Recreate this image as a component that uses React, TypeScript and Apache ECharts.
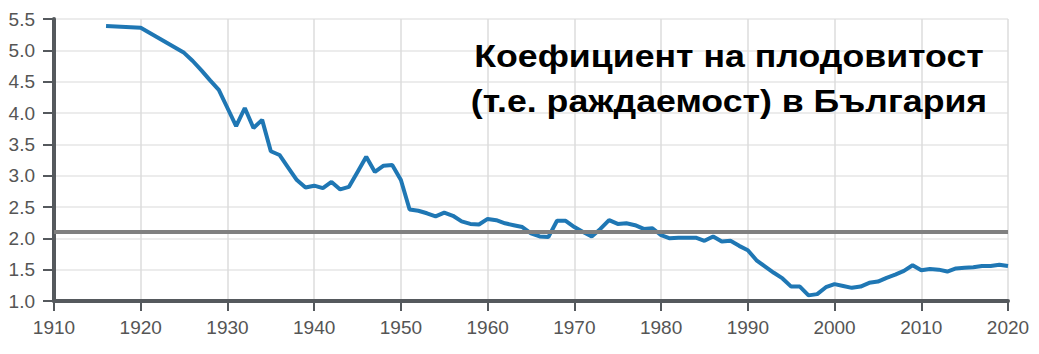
import React, { useEffect, useRef } from "react";
import * as echarts from "echarts";

const years: number[] = [
  1916, 1920, 1921, 1922, 1923, 1924, 1925, 1926, 1927, 1928, 1929, 1930,
  1931, 1932, 1933, 1934, 1935, 1936, 1937, 1938, 1939, 1940, 1941, 1942,
  1943, 1944, 1945, 1946, 1947, 1948, 1949, 1950, 1951, 1952, 1953, 1954,
  1955, 1956, 1957, 1958, 1959, 1960, 1961, 1962, 1963, 1964, 1965, 1966,
  1967, 1968, 1969, 1970, 1971, 1972, 1973, 1974, 1975, 1976, 1977, 1978,
  1979, 1980, 1981, 1982, 1983, 1984, 1985, 1986, 1987, 1988, 1989, 1990,
  1991, 1992, 1993, 1994, 1995, 1996, 1997, 1998, 1999, 2000, 2001, 2002,
  2003, 2004, 2005, 2006, 2007, 2008, 2009, 2010, 2011, 2012, 2013, 2014,
  2015, 2016, 2017, 2018, 2019, 2020,
];

const fertility: number[] = [
  5.39, 5.36, 5.28, 5.2, 5.12, 5.04, 4.96, 4.83, 4.68, 4.52, 4.37, 4.08,
  3.79, 4.08, 3.76, 3.89, 3.39, 3.33, 3.13, 2.93, 2.81, 2.84, 2.8, 2.9,
  2.78, 2.82, 3.06, 3.3, 3.06, 3.16, 3.17, 2.93, 2.46, 2.44, 2.4, 2.35,
  2.41, 2.36, 2.27, 2.23, 2.22, 2.31, 2.29, 2.24, 2.21, 2.18, 2.08, 2.03,
  2.02, 2.28, 2.28, 2.18, 2.1, 2.03, 2.15, 2.29, 2.23, 2.24, 2.21, 2.15,
  2.16, 2.05, 2.0, 2.01, 2.01, 2.01, 1.96, 2.03, 1.95, 1.96, 1.88, 1.81,
  1.65, 1.55, 1.45, 1.36, 1.23, 1.23, 1.09, 1.11, 1.22, 1.27, 1.24, 1.21,
  1.23, 1.29, 1.31, 1.37, 1.42, 1.48, 1.57, 1.49, 1.51, 1.5, 1.47, 1.52,
  1.53, 1.54, 1.56, 1.56, 1.58, 1.56,
];

const replacementLevel = 2.1;
const titleLines: string[] = ["Коефициент на плодовитост", "(т.е. раждаемост) в България"];

export default function App() {
  const ref = useRef<HTMLDivElement>(null);
  useEffect(() => {
    document.body.style.margin = "0";
    if (!ref.current) return;
    const chart = echarts.init(ref.current, undefined, { renderer: "svg" });
    const axisColor = "#55595d";
    const labelFont = "'Liberation Sans', Arial, sans-serif";
    chart.setOption({
      animation: false,
      backgroundColor: "#ffffff",
      grid: { left: 54, right: 31, top: 19, bottom: 53 },
      xAxis: {
        type: "value",
        min: 1910,
        max: 2020,
        interval: 10,
        axisLine: { show: true, onZero: false, lineStyle: { color: axisColor, width: 4 } },
        axisTick: { show: true, length: 10, lineStyle: { color: axisColor, width: 2 } },
        axisLabel: {
          color: "#555",
          fontSize: 19,
          fontFamily: labelFont,
          margin: 17,
          formatter: (v: number) => String(v),
        },
        splitLine: { show: true, lineStyle: { color: "#dcdcdc", width: 1.5 } },
      },
      yAxis: {
        type: "value",
        min: 1,
        max: 5.5,
        interval: 0.5,
        axisLine: { show: true, onZero: false, lineStyle: { color: axisColor, width: 4 } },
        axisTick: { show: true, length: 11, lineStyle: { color: axisColor, width: 2 } },
        axisLabel: {
          color: "#555",
          fontSize: 19,
          fontFamily: labelFont,
          margin: 19,
          formatter: (v: number) => v.toFixed(1),
        },
        splitLine: { show: true, lineStyle: { color: "#e6e6e6", width: 1.5 } },
      },
      series: [
        {
          type: "line",
          data: years.map((y, i) => [y, fertility[i]]),
          showSymbol: false,
          lineStyle: { color: "#1f77b4", width: 4 },
          markLine: {
            silent: true,
            symbol: "none",
            label: { show: false },
            lineStyle: { color: "#808080", width: 4, type: "solid" },
            data: [{ yAxis: replacementLevel }],
          },
        },
      ],
      graphic: [
        {
          type: "text",
          x: 729,
          y: 34,
          scaleX: 1.17,
          z: 10,
          style: {
            text: titleLines.join("\n"),
            fill: "#000",
            font: "bold 30.5px 'Liberation Sans', Arial, sans-serif",
            lineHeight: 45,
            align: "center",
            verticalAlign: "top",
          },
        },
      ],
    });
    return () => chart.dispose();
  }, []);
  return <div ref={ref} style={{ width: 1039, height: 354 }} />;
}
